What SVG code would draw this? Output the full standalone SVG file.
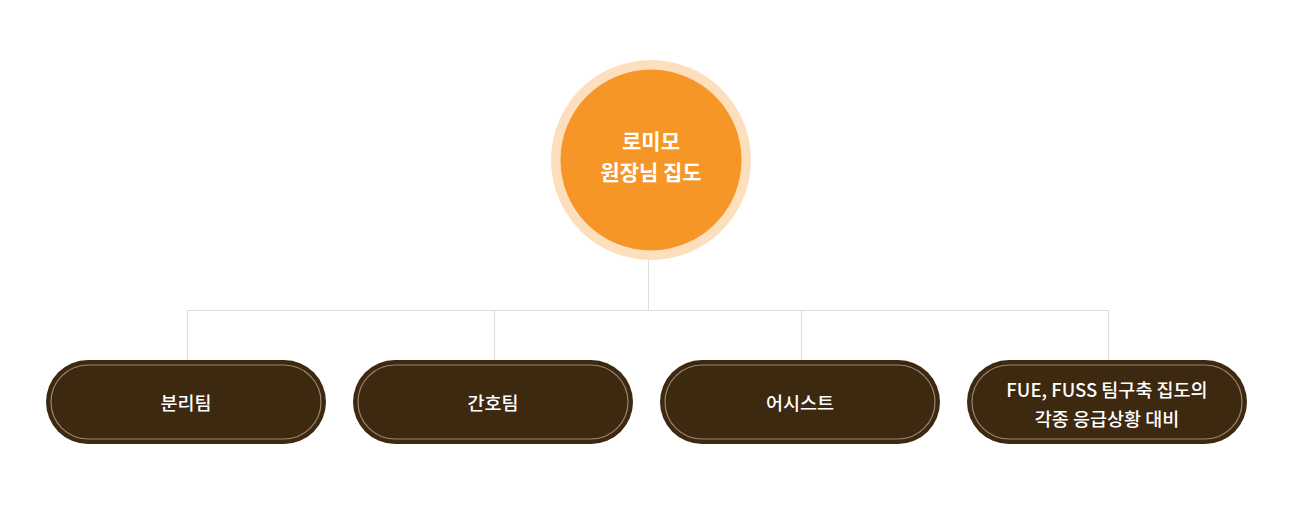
<svg xmlns="http://www.w3.org/2000/svg" width="1301" height="505" viewBox="0 0 1301 505">
<style>
.pill{fill:#3D2810;}
.pin{fill:none;stroke:#9A8470;stroke-width:1.2;}
.pt{font-family:"Noto Sans CJK KR","Noto Sans",sans-serif;font-size:18.5px;font-weight:500;fill:#FFFFFF;text-anchor:middle;}
.ct{font-family:"Noto Sans CJK KR","Noto Sans",sans-serif;font-size:21px;font-weight:700;fill:#FFFFFF;text-anchor:middle;}
.ln{fill:none;stroke:#DDDDDD;stroke-width:1;}
</style>
<rect width="1301" height="505" fill="#FFFFFF"/>
<g id="connectors">
<path class="ln" d="M648.5 258 V310.5 M187.5 310.5 H1108.5 M187.5 310 V361 M494.5 310 V361 M801.5 310 V361 M1108.5 310 V361"/>
</g>
<g id="root">
<circle cx="651" cy="160" r="100" fill="#FDDFBD"/>
<circle cx="651" cy="160" r="90.5" fill="#F59627"/>
<text class="ct" x="651" y="149">로미모</text>
<text class="ct" x="651" y="180">원장님 집도</text>
</g>
<g id="node1">
<rect class="pill" x="46" y="360" width="280" height="84" rx="42"/>
<rect class="pin" x="51" y="365" width="270" height="74" rx="37"/>
<text class="pt" x="186" y="410">분리팀</text>
</g>
<g id="node2">
<rect class="pill" x="353" y="360" width="280" height="84" rx="42"/>
<rect class="pin" x="358" y="365" width="270" height="74" rx="37"/>
<text class="pt" x="493" y="410">간호팀</text>
</g>
<g id="node3">
<rect class="pill" x="660" y="360" width="280" height="84" rx="42"/>
<rect class="pin" x="665" y="365" width="270" height="74" rx="37"/>
<text class="pt" x="800" y="410">어시스트</text>
</g>
<g id="node4">
<rect class="pill" x="967" y="360" width="280" height="84" rx="42"/>
<rect class="pin" x="972" y="365" width="270" height="74" rx="37"/>
<text class="pt" x="1107" y="397">FUE, FUSS 팀구축 집도의</text>
<text class="pt" x="1107" y="426">각종 응급상황 대비</text>
</g>
</svg>
